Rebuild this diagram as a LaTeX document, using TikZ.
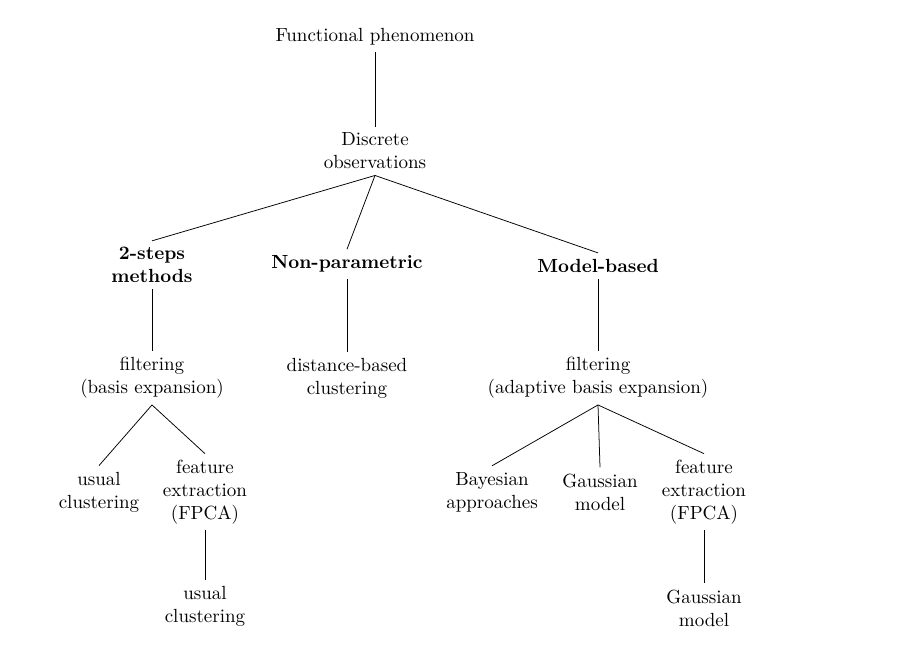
\documentclass[tikz,border=0pt]{standalone}
\begin{document}
\begin{tikzpicture}[x=0.526pt,y=-0.526pt,
  lbl/.style={align=center, inner sep=3.2pt},
  bflbl/.style={lbl, font=\bfseries},
  link/.style={draw=black, line width=0.4pt}]
\useasboundingbox (0,0) rectangle (903,645);
\node[lbl] (fp) at (375,37) {Functional phenomenon};
\node[lbl] (do) at (375,151) {Discrete\\observations};
\node[bflbl] (ts) at (152,265) {2-steps\\methods};
\node[bflbl] (np) at (347,264) {Non-parametric};
\node[bflbl] (mb) at (598,266) {Model-based};
\node[lbl] (f1) at (152,378) {filtering\\(basis expansion)};
\node[lbl] (db) at (347,378) {distance-based\\clustering};
\node[lbl] (f2) at (598,378) {filtering\\(adaptive basis expansion)};
\node[lbl] (uc1) at (99,492) {usual\\clustering};
\node[lbl] (fe1) at (205,492) {feature\\extraction\\(FPCA)};
\node[lbl] (uc2) at (205,606) {usual\\clustering};
\node[lbl] (ba) at (492,492) {Bayesian\\approaches};
\node[lbl] (gm1) at (600,492) {Gaussian\\model};
\node[lbl] (fe2) at (704,492) {feature\\extraction\\(FPCA)};
\node[lbl] (gm2) at (704,608) {Gaussian\\model};
\path[link] (fp.south) -- (do.north);
\path[link] (do.south) -- (ts.north);
\path[link] (do.south) -- (np.north);
\path[link] (do.south) -- (mb.north);
\path[link] (ts.south) -- (f1.north);
\path[link] (np.south) -- (db.north);
\path[link] (mb.south) -- (f2.north);
\path[link] (f1.south) -- (uc1.north);
\path[link] (f1.south) -- (fe1.north);
\path[link] (fe1.south) -- (uc2.north);
\path[link] (f2.south) -- (ba.north);
\path[link] (f2.south) -- (gm1.north);
\path[link] (f2.south) -- (fe2.north);
\path[link] (fe2.south) -- (gm2.north);
\end{tikzpicture}
\end{document}
